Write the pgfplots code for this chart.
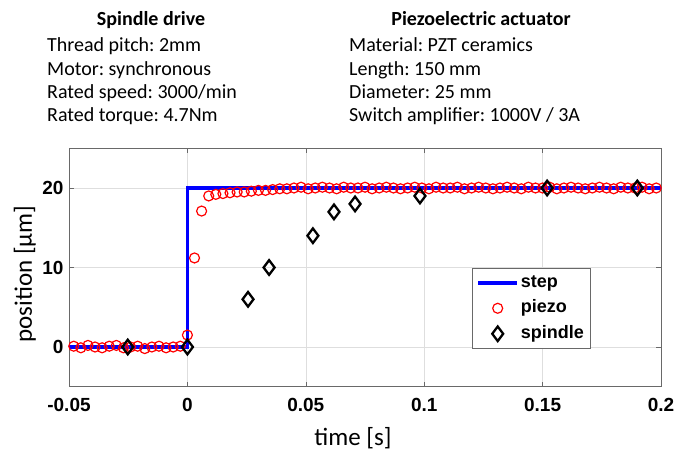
\documentclass[border=0pt]{standalone}
\usepackage{fontspec}
\setmainfont{Carlito}
\newfontfamily\arialfont{Liberation Sans}
\usepackage{pgfplots}
\pgfplotsset{compat=1.18}
\definecolor{axgray}{RGB}{105,105,105}
\definecolor{gridgray}{RGB}{222,222,222}
\frenchspacing
\begin{document}
\begin{tikzpicture}
\path[use as bounding box] (-69pt,-65.25pt) rectangle (607pt,386.75pt);
\begin{axis}[
  at={(0pt,0pt)}, anchor=south west,
  scale only axis, width=592pt, height=238.5pt,
  xmin=-0.05, xmax=0.2, ymin=-5, ymax=25,
  xtick={-0.05,0,0.05,0.1,0.15,0.2},
  xticklabels={-0.05,0,0.05,0.1,0.15,0.2},
  ytick={0,10,20},
  yticklabels={0,10,20},
  xtick pos=both, ytick pos=both,
  tick align=inside,
  major tick length=5pt,
  tick style={color=axgray, line width=0.6pt},
  axis line style={draw=axgray, line width=0.7pt},
  grid=major,
  major grid style={draw=gridgray, line width=0.6pt},
  ticklabel style={font=\arialfont\bfseries\fontsize{19}{19}\selectfont, text=black},
  xticklabel style={yshift=-8pt},
  yticklabel style={xshift=-2pt},
  legend cell align=left,
  legend image code/.code={\draw[mark repeat=2,mark phase=2,#1] plot coordinates {(0pt,0pt) (19.5pt,0pt) (39pt,0pt)};},
  legend style={at={(rel axis cs:0.681,0.498)}, anchor=north west,
    draw=axgray, line width=0.6pt, fill=white,
    font=\arialfont\bfseries\fontsize{18}{18}\selectfont,
    inner xsep=4pt, inner ysep=4pt, row sep=4.5pt,
    nodes={text height=13pt, text depth=4pt, inner ysep=2pt},
    /tikz/every even column/.append style={column sep=3pt}},
]
\addplot[color=blue, line width=3.5pt, line join=miter, mark=none] coordinates {
  (-0.05,0) (0,0) (0,20) (0.2,20)
};
\addlegendentry{step}
\addplot[only marks, mark=o, mark size=5pt, color=red, mark options={line width=1.2pt}] table {
t y
-0.048 0.1
-0.045 -0.1
-0.042 0.2
-0.039 0.0
-0.036 -0.1
-0.033 0.1
-0.030 0.2
-0.027 -0.1
-0.024 0.0
-0.021 0.1
-0.018 -0.2
-0.015 0.0
-0.012 0.1
-0.009 -0.1
-0.006 0.0
-0.003 0.1
0.000 1.5
0.003 11.2
0.006 17.1
0.009 19.0
0.012 19.2
0.015 19.3
0.018 19.4
0.021 19.5
0.024 19.5
0.027 19.6
0.030 19.7
0.033 19.7
0.036 19.8
0.039 19.9
0.042 19.9
0.045 20.0
0.048 20.1
0.051 19.9
0.054 20.0
0.057 20.1
0.060 20.0
0.063 19.9
0.066 20.1
0.069 20.0
0.072 20.0
0.075 20.1
0.078 19.9
0.081 20.0
0.084 20.1
0.087 20.0
0.090 19.9
0.093 20.0
0.096 20.1
0.099 20.0
0.102 19.9
0.105 20.1
0.108 20.0
0.111 20.0
0.114 20.1
0.117 19.9
0.120 20.0
0.123 20.1
0.126 20.0
0.129 19.9
0.132 20.0
0.135 20.1
0.138 20.0
0.141 19.9
0.144 20.1
0.147 20.0
0.150 20.0
0.153 20.1
0.156 19.9
0.159 20.0
0.162 20.1
0.165 20.0
0.168 19.9
0.171 20.0
0.174 20.1
0.177 20.0
0.180 19.9
0.183 20.1
0.186 20.0
0.189 20.0
0.192 20.1
0.195 19.9
0.198 20.0
};
\addlegendentry{piezo}
\addplot[only marks, mark=diamond, mark size=7.3pt, color=black, mark options={line width=2.3pt, line join=miter}] table {
t y
-0.0252 0
0.0 0
0.0256 6
0.0345 10
0.0530 14
0.0619 17
0.0708 18
0.0982 19
0.1519 20
0.1900 20
};
\addlegendentry{spindle}
\end{axis}
% header texts
\begin{scope}[every node/.style={inner sep=0pt, font=\fontsize{20}{23.3}\selectfont}]
\node[anchor=base] at (82pt,360.75pt) {\bfseries Spindle drive};
\node[anchor=base west] at (-22pt,335pt) {Thread pitch: 2mm};
\node[anchor=base west] at (-22pt,311.7pt) {Motor: synchronous};
\node[anchor=base west] at (-22pt,288.4pt) {Rated speed: 3000/min};
\node[anchor=base west] at (-22pt,265.1pt) {Rated torque: 4.7Nm};
\node[anchor=base] at (412pt,360.75pt) {\bfseries Piezoelectric actuator};
\node[anchor=base west] at (280pt,335pt) {Material: PZT ceramics};
\node[anchor=base west] at (280pt,311.7pt) {Length: 150 mm};
\node[anchor=base west] at (280pt,288.4pt) {Diameter: 25 mm};
\node[anchor=base west] at (280pt,265.1pt) {Switch amplifier: 1000V / 3A};
\end{scope}
% axis labels
\node[inner sep=0pt, anchor=base, font=\fontsize{25}{25}\selectfont] at (284pt,-58.5pt) {time [s]};
\node[inner sep=0pt, anchor=base, rotate=90, font=\fontsize{25}{25}\selectfont] at (-37pt,112.75pt) {position [µm]};
\end{tikzpicture}
\end{document}
